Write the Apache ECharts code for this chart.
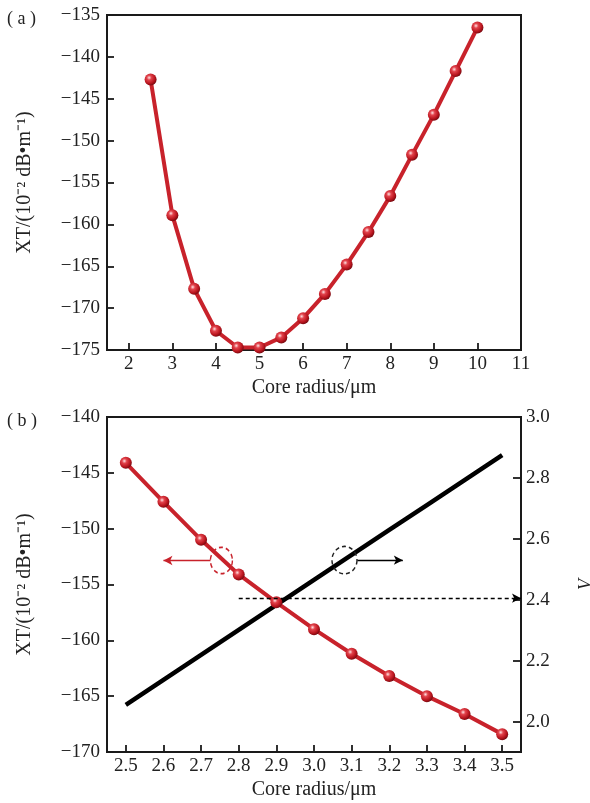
<!DOCTYPE html>
<html>
<head>
<meta charset="utf-8">
<script src="https://cdn.jsdelivr.net/npm/echarts@6/dist/echarts.min.js"></script>
<style>
  html, body { margin: 0; padding: 0; background: #fff; }
  #chart { width: 590px; height: 803px; }
</style>
</head>
<body>
<div id="chart"></div>
<script>
// (a) crosstalk versus core radius, wide sweep
const radiusA = [2.5, 3, 3.5, 4, 4.5, 5, 5.5, 6, 6.5, 7, 7.5, 8, 8.5, 9, 9.5, 10];
const xtA = [-142.7, -158.9, -167.7, -172.7, -174.7, -174.7, -173.5, -171.2, -168.3, -164.8, -160.9, -156.6, -151.7, -146.9, -141.7, -136.5];

// (b) crosstalk and normalized frequency V, narrow sweep
const radiusB = [2.5, 2.6, 2.7, 2.8, 2.9, 3.0, 3.1, 3.2, 3.3, 3.4, 3.5];
const xtB = [-144.1, -147.6, -151.0, -154.1, -156.6, -159.0, -161.2, -163.2, -165.0, -166.6, -168.4];
const vB = [2.055, 2.137, 2.219, 2.301, 2.383, 2.465, 2.547, 2.629, 2.711, 2.793, 2.875];

// tick labels
const ticksXA = [2, 3, 4, 5, 6, 7, 8, 9, 10, 11];
const ticksYA = [-175, -170, -165, -160, -155, -150, -145, -140, -135];
const ticksXB = [2.5, 2.6, 2.7, 2.8, 2.9, 3.0, 3.1, 3.2, 3.3, 3.4, 3.5];
const ticksYB = [-170, -165, -160, -155, -150, -145, -140];
const ticksVB = [2.0, 2.2, 2.4, 2.6, 2.8, 3.0];

// V = 2.405 single-mode cutoff reference line
const cutoffV = 2.405;
const cutoffStart = 2.8;

const FONT = "'Liberation Serif', 'Times New Roman', serif";
const RED = '#c8222b';
const INK = '#1a1a1a';

const chart = echarts.init(document.getElementById('chart'), null, { renderer: 'canvas' });

const sphere = new echarts.graphic.RadialGradient(0.38, 0.35, 0.65, [
  { offset: 0, color: '#ffe3e3' },
  { offset: 0.3, color: '#e2434c' },
  { offset: 0.75, color: '#b8141d' },
  { offset: 1, color: '#7d0b12' }
]);

const minusFmt = v => (v < 0 ? '\u2212' : '') + Math.abs(v);

function valueAxis(extra) {
  return Object.assign({
    type: 'value',
    axisLine: { show: true, onZero: false, lineStyle: { color: INK, width: 2 } },
    axisTick: { show: true, inside: true, length: 7, lineStyle: { color: INK, width: 1.8 } },
    axisLabel: { color: '#222', fontFamily: FONT, fontSize: 19 },
    splitLine: { show: false },
    nameTextStyle: { color: '#222', fontFamily: FONT, fontSize: 20 }
  }, extra);
}

const ytName = 'XT/(10\u207B\u00B2 dB\u2022m\u207B\u00B9)';

const option = {
  backgroundColor: '#fff',
  animation: false,
  grid: [
    { left: 107, top: 15, width: 414, height: 335, show: true, borderColor: INK, borderWidth: 2, outerBoundsMode: 'none', containLabel: false },
    { left: 107, top: 417, width: 414, height: 335, show: true, borderColor: INK, borderWidth: 2, outerBoundsMode: 'none', containLabel: false }
  ],
  xAxis: [
    valueAxis({
      gridIndex: 0, min: 1.5, max: 11,
      axisLabel: { color: '#222', fontFamily: FONT, fontSize: 19, margin: 5, customValues: ticksXA },
      axisTick: { show: true, inside: true, length: 7, lineStyle: { color: INK, width: 1.8 }, customValues: ticksXA },
      name: 'Core radius/\u03BCm', nameLocation: 'middle', nameGap: 28
    }),
    valueAxis({
      gridIndex: 1, min: 2.45, max: 3.55,
      axisLabel: { color: '#222', fontFamily: FONT, fontSize: 19, margin: 5, customValues: ticksXB, formatter: v => v.toFixed(1) },
      axisTick: { show: true, inside: true, length: 7, lineStyle: { color: INK, width: 1.8 }, customValues: ticksXB },
      name: 'Core radius/\u03BCm', nameLocation: 'middle', nameGap: 28
    })
  ],
  yAxis: [
    valueAxis({
      gridIndex: 0, min: -175, max: -135,
      axisLabel: { color: '#222', fontFamily: FONT, fontSize: 19, margin: 7, customValues: ticksYA, formatter: minusFmt },
      axisTick: { show: true, inside: true, length: 7, lineStyle: { color: INK, width: 1.8 }, customValues: ticksYA },
      name: ytName, nameLocation: 'middle', nameGap: 72
    }),
    valueAxis({
      gridIndex: 1, min: -170, max: -140,
      axisLabel: { color: '#222', fontFamily: FONT, fontSize: 19, margin: 7, customValues: ticksYB, formatter: minusFmt },
      axisTick: { show: true, inside: true, length: 7, lineStyle: { color: INK, width: 1.8 }, customValues: ticksYB },
      name: ytName, nameLocation: 'middle', nameGap: 72
    }),
    valueAxis({
      gridIndex: 1, position: 'right', min: 1.9, max: 3.0,
      axisLabel: { color: '#222', fontFamily: FONT, fontSize: 19, margin: 5, customValues: ticksVB, formatter: v => v.toFixed(1) },
      axisTick: { show: true, inside: true, length: 8, lineStyle: { color: INK, width: 1.8 }, customValues: ticksVB },
      name: 'V', nameLocation: 'middle', nameGap: 56,
      nameTextStyle: { color: '#222', fontFamily: FONT, fontSize: 18, fontStyle: 'italic' }
    })
  ],
  series: [
    {
      type: 'line', xAxisIndex: 0, yAxisIndex: 0,
      data: radiusA.map((r, i) => [r, xtA[i]]),
      lineStyle: { color: RED, width: 4 },
      symbol: 'circle', symbolSize: 12,
      itemStyle: { color: sphere },
      z: 3
    },
    {
      type: 'line', xAxisIndex: 1, yAxisIndex: 1,
      data: radiusB.map((r, i) => [r, xtB[i]]),
      lineStyle: { color: RED, width: 4 },
      symbol: 'circle', symbolSize: 12,
      itemStyle: { color: sphere },
      z: 4,
      markLine: {
        silent: true, symbol: ['none', 'arrow'], symbolSize: [7, 9],
        lineStyle: { color: RED, width: 1.3, type: 'solid' },
        label: { show: false },
        data: [[{ coord: [2.725, -152.85] }, { coord: [2.60, -152.85] }]]
      }
    },
    {
      type: 'line', xAxisIndex: 1, yAxisIndex: 2,
      data: radiusB.map((r, i) => [r, vB[i]]),
      lineStyle: { color: '#000', width: 4.5 },
      showSymbol: false, symbol: 'none',
      z: 3,
      markLine: {
        silent: true, symbol: ['none', 'arrow'], symbolSize: [7, 9],
        label: { show: false },
        data: [
          [{ coord: [cutoffStart, cutoffV], lineStyle: { type: [4, 3], width: 1.3, color: '#000' } },
           { coord: [3.55, cutoffV] }],
          [{ coord: [3.115, 2.53], lineStyle: { type: 'solid', width: 1.3, color: '#000' } },
           { coord: [3.236, 2.53] }]
        ]
      }
    }
  ]
};

chart.setOption(option);

// panel letters and the dashed rings marking which curve belongs to which axis
const redC = chart.convertToPixel({ seriesIndex: 1 }, [2.754, -152.85]);
const blkC = chart.convertToPixel({ seriesIndex: 2 }, [3.081, 2.53]);

chart.setOption({
  graphic: [
    { type: 'text', left: 7, top: 10, style: { text: '( a )', font: '18px ' + FONT, fill: '#222' } },
    { type: 'text', left: 7, top: 412, style: { text: '( b )', font: '18px ' + FONT, fill: '#222' } },
    {
      type: 'circle', x: redC[0], y: redC[1], scaleX: 1, scaleY: 1.2, z: 10,
      shape: { cx: 0, cy: 0, r: 11 },
      style: { fill: 'none', stroke: RED, lineWidth: 1.4, lineDash: [4, 3] }
    },
    {
      type: 'circle', x: blkC[0], y: blkC[1], scaleX: 1, scaleY: 1.1, z: 10,
      shape: { cx: 0, cy: 0, r: 12.5 },
      style: { fill: 'none', stroke: '#222', lineWidth: 1.4, lineDash: [4, 3] }
    }
  ]
});
</script>
</body>
</html>
